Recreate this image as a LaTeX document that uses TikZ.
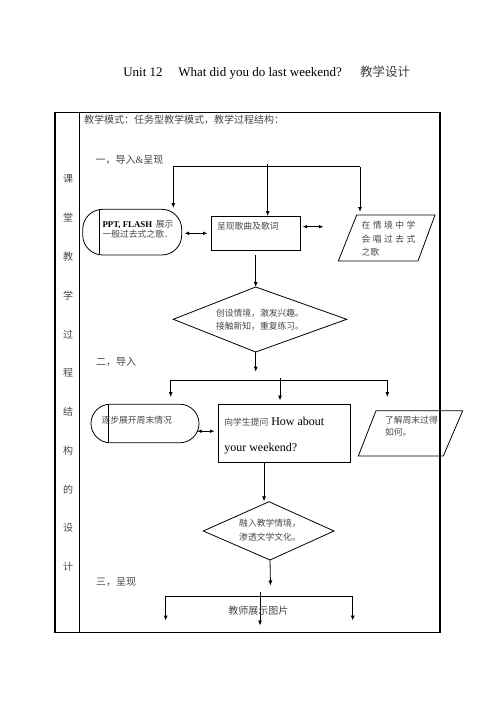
\documentclass[tikz,border=0pt]{standalone}
\usepackage{fontspec}
\setmainfont{Liberation Serif}
\newfontfamily\cjk{Noto Sans CJK SC}
\usetikzlibrary{arrows.meta}
\newcommand{\gp}{\hspace*{2.5bp}}
\begin{document}
\begin{tikzpicture}[x=1bp,y=-1bp,
  every node/.style={inner sep=0pt, outer sep=0pt},
  tbl/.style={line width=1.2bp},
  shp/.style={draw, line width=0.8bp},
  lnk/.style={line width=0.8bp},
  arr/.style={line width=0.8bp, -{Latex[length=5bp,width=4bp]}},
  darr/.style={line width=0.8bp, {Latex[length=4.5bp,width=3.6bp]}-{Latex[length=4.5bp,width=3.6bp]}},
  cn/.style={font=\cjk\fontsize{10bp}{12bp}\selectfont, text=black!72},
  bx/.style={font=\cjk\fontsize{8.8bp}{10.5bp}\selectfont, text=black!72, anchor=west, align=left},
  ctr/.style={font=\cjk\fontsize{8.8bp}{13.5bp}\selectfont, text=black!72, align=center}
]
\useasboundingbox (0,0) rectangle (496,702);
% title
\node[anchor=base west, font=\fontsize{13bp}{15bp}\selectfont] (t1) at (123.3,76.7) {Unit 12};
\node[anchor=base west, font=\fontsize{13bp}{15bp}\selectfont] (t2) at (178.3,76.7) {What did you do last weekend?};
\node[anchor=base west, font=\cjk\fontsize{12.5bp}{14bp}\selectfont, text=black!75] (t3) at (360,76.7) {教学设计};
% table
\node[draw, tbl, anchor=north west, minimum width=385bp, minimum height=520.4bp] (frame) at (55,112.3) {};
\coordinate (divT) at (79.3,112.3);
\coordinate (divB) at (79.3,632.7);
\draw[tbl] (divT) -- (divB);
\foreach \c [count=\i from 0] in {课,堂,教,学,过,程,结,构,的,设,计}
  \node[cn] (col\i) at (68,179+38.8*\i) {\c};
\node[cn, anchor=west] (hdr) at (84,120) {教学模式：任务型教学模式，教学过程结构：};
\node[cn, anchor=west] (s1) at (95.5,160) {一，导入{\rmfamily\&}呈现};
\node[cn, anchor=west] (s2) at (96,361.7) {二，导入};
\node[cn, anchor=west] (s3) at (96,581.7) {三，呈现};

% ---- section 1
\coordinate (j1L) at (173.3,166.7);
\coordinate (j1R) at (360,166.7);
\coordinate (j1T) at (267.7,163.5);
\draw[lnk] (j1L) -- (j1R);
\node[shp, rounded corners=20bp, anchor=north west, minimum width=99bp, minimum height=45.7bp] (r1) at (82.7,209.3) {};
\draw[lnk] (99.3,210.2) -- (99.3,254.2);
\node[bx, anchor=west, font=\fontsize{8.8bp}{10.5bp}\selectfont, text=black] (r1a) at (102.5,224.5) {\textbf{PPT, FLASH} {\cjk\color{black!72}\,展示}};
\node[bx] (r1b) at (102.5,234.5) {一般过去式之歌．};
\node[shp, anchor=north west, minimum width=89bp, minimum height=34bp] (b1) at (211,216) {};
\node[bx] (b1t) at (217,226.5) {呈现歌曲及歌词};
\coordinate (p1a) at (356.7,215); \coordinate (p1b) at (435,215);
\coordinate (p1c) at (418,261); \coordinate (p1d) at (338.3,261);
\draw[shp, line join=miter] (p1a) -- (p1b) -- (p1c) -- (p1d) -- cycle;
\node[bx] (p1t1) at (361.5,225.5) {在\gp 情\gp 境\gp 中\gp 学};
\node[bx] (p1t2) at (361.5,239) {会\gp 唱\gp 过\gp 去\gp 式};
\node[bx] (p1t3) at (361.5,252.5) {之歌};
\coordinate (r1n) at (173.3,208);
\coordinate (p1n) at (360,212);
\draw[arr] (j1L) -- (r1n);
\draw[arr] (j1T) -- (j1T |- b1.north);
\draw[arr] (j1R) -- (p1n);
\coordinate (da1) at (184.5,233.3); \coordinate (db1) at (207.5,233.3);
\draw[darr] (da1) -- (db1);
\coordinate (da2) at (302.5,226.7); \coordinate (db2) at (323.5,226.7);
\draw[darr] (da2) -- (db2);
% diamond 1
\coordinate (d1t) at (255.7,287); \coordinate (d1r) at (346.7,319.3);
\coordinate (d1b) at (255.7,352); \coordinate (d1l) at (173.3,319.3);
\draw[shp] (d1t) -- (d1r) -- (d1b) -- (d1l) -- cycle;
\node[ctr] (d1x) at (260,319.5) {创设情境，激发兴趣。\\接触新知，重复练习。};
\coordinate (b1s) at (255.7,255);
\draw[arr] (b1s) -- (d1t);

% ---- section 2
\coordinate (j2a) at (255.7,371.7);
\draw[arr] (d1b) -- (j2a);
\coordinate (j2L) at (170.7,380);
\coordinate (j2R) at (387.3,380);
\coordinate (j2T) at (280,378.3);
\draw[lnk] (j2L) -- (j2R);
\coordinate (r2n) at (170.7,397); \coordinate (b2n) at (280,400.5); \coordinate (p2n) at (387.3,397);
\draw[arr] (j2L) -- (r2n);
\draw[arr] (j2T) -- (b2n);
\draw[arr] (j2R) -- (p2n);
\node[shp, rounded corners=19.3bp, anchor=north west, minimum width=108bp, minimum height=38.6bp] (r2) at (91,404.2) {};
\draw[lnk] (108.3,404.6) -- (108.3,442.4);
\node[bx] (r2t) at (101.5,420) {逐步展开周末情况};
\node[shp, anchor=north west, minimum width=132.4bp, minimum height=58.7bp] (b2) at (218.3,404) {};
\node[anchor=base west, font=\fontsize{12bp}{14bp}\selectfont] (b2t1) at (224.3,425.3) {{\cjk\fontsize{8.8bp}{10bp}\selectfont\color{black!72}向学生提问} How about};
\node[anchor=base west, font=\fontsize{12bp}{14bp}\selectfont] (b2t2) at (224.3,451.8) {your weekend?};
\coordinate (da3) at (197,431.2); \coordinate (db3) at (214.5,431.2);
\draw[darr] (da3) -- (db3);
\coordinate (p2a) at (376,410.7); \coordinate (p2b) at (462.7,410.7);
\coordinate (p2c) at (443.3,456); \coordinate (p2d) at (358.3,456);
\draw[shp, line join=miter] (p2a) -- (p2b) -- (p2c) -- (p2d) -- cycle;
\node[bx] (p2t1) at (385,420) {了解周末过得};
\node[bx] (p2t2) at (385,431.7) {如何。};
% diamond 2
\coordinate (b2s) at (264,462.7);
\coordinate (d2t) at (269,501.7); \coordinate (d2r) at (334,531);
\coordinate (d2b) at (270,560); \coordinate (d2l) at (203.3,531);
\draw[shp] (d2t) -- (d2r) -- (d2b) -- (d2l) -- cycle;
\coordinate (d2a) at (264,501.3);
\draw[arr] (b2s) -- (d2a);
\node[ctr] (d2x) at (270,530.3) {融入教学情境，\\渗透文学文化。};

% ---- section 3
\coordinate (j3a) at (270.5,585.5);
\draw[arr] (d2b) -- (j3a);
\coordinate (j3L) at (165.7,596);
\coordinate (j3R) at (352.7,596);
\coordinate (j3T) at (260,592);
\draw[lnk] (j3L) -- (j3R);
\coordinate (e3L) at (165.7,620.5); \coordinate (e3M) at (260,625.5); \coordinate (e3R) at (352.7,620.5);
\draw[arr] (j3L) -- (e3L);
\draw[arr] (j3T) -- (e3M);
\draw[arr] (j3R) -- (e3R);
\node[cn] (pic) at (258.3,610.7) {教师展示图片};
\end{tikzpicture}
\end{document}
